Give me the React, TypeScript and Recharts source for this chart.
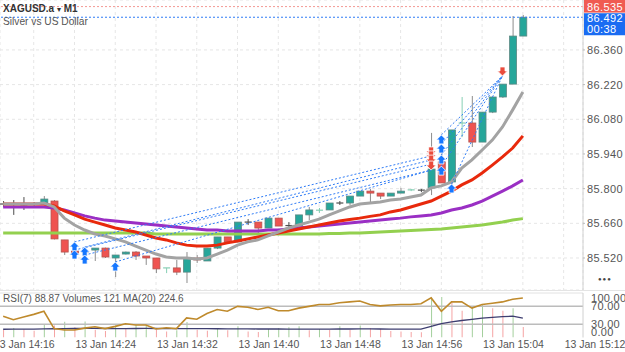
import { ComposedChart, Bar, Line, Scatter, XAxis, YAxis, CartesianGrid, ReferenceLine, Cell } from 'recharts';

// one candle per minute, left to right
const opens = [85.738, 85.738, 85.734, 85.738, 85.742, 85.750, 85.593, 85.548, 85.544, 85.552, 85.560, 85.520, 85.536, 85.544, 85.528, 85.520, 85.476, 85.480, 85.463, 85.520, 85.508, 85.560, 85.605, 85.585, 85.665, 85.665, 85.641, 85.681, 85.651, 85.649, 85.694, 85.712, 85.714, 85.742, 85.742, 85.770, 85.790, 85.782, 85.770, 85.782, 85.794, 85.794, 85.803, 85.908, 85.827, 86.061, 86.065, 85.988, 86.109, 86.170, 86.222, 86.416];
const highs = [85.750, 85.754, 85.766, 85.746, 85.770, 85.754, 85.593, 85.560, 85.552, 85.560, 85.562, 85.532, 85.546, 85.548, 85.528, 85.520, 85.480, 85.512, 85.544, 85.532, 85.560, 85.605, 85.605, 85.665, 85.677, 85.665, 85.681, 85.681, 85.665, 85.694, 85.726, 85.722, 85.742, 85.750, 85.770, 85.790, 85.799, 85.782, 85.782, 85.803, 85.799, 85.799, 86.025, 85.956, 86.037, 86.170, 86.174, 86.109, 86.170, 86.222, 86.497, 86.501];
const lows = [85.726, 85.694, 85.714, 85.730, 85.742, 85.595, 85.532, 85.520, 85.532, 85.508, 85.520, 85.443, 85.534, 85.512, 85.492, 85.459, 85.459, 85.451, 85.419, 85.500, 85.508, 85.556, 85.581, 85.585, 85.653, 85.621, 85.641, 85.649, 85.641, 85.649, 85.673, 85.702, 85.714, 85.734, 85.734, 85.770, 85.742, 85.758, 85.770, 85.782, 85.790, 85.786, 85.774, 85.823, 85.815, 86.008, 85.968, 85.988, 86.105, 86.166, 86.222, 86.416];
const closes = [85.738, 85.738, 85.734, 85.738, 85.758, 85.597, 85.544, 85.540, 85.544, 85.560, 85.524, 85.532, 85.544, 85.528, 85.520, 85.476, 85.480, 85.463, 85.520, 85.512, 85.560, 85.605, 85.585, 85.665, 85.665, 85.641, 85.681, 85.649, 85.651, 85.694, 85.714, 85.713, 85.742, 85.742, 85.770, 85.790, 85.782, 85.770, 85.782, 85.790, 85.795, 85.794, 85.879, 85.823, 86.037, 86.065, 85.988, 86.109, 86.170, 86.222, 86.416, 86.492];

const maGray = [85.738, 85.738, 85.738, 85.738, 85.742, 85.726, 85.681, 85.653, 85.633, 85.617, 85.609, 85.597, 85.585, 85.568, 85.552, 85.536, 85.524, 85.520, 85.520, 85.516, 85.520, 85.536, 85.552, 85.572, 85.585, 85.593, 85.609, 85.625, 85.641, 85.653, 85.665, 85.677, 85.694, 85.710, 85.726, 85.738, 85.742, 85.746, 85.754, 85.758, 85.766, 85.774, 85.803, 85.811, 85.827, 85.883, 85.916, 85.956, 85.996, 86.049, 86.118, 86.190];
const maRed = [85.738, 85.738, 85.738, 85.738, 85.738, 85.730, 85.710, 85.694, 85.677, 85.665, 85.653, 85.641, 85.633, 85.625, 85.613, 85.601, 85.593, 85.581, 85.572, 85.568, 85.568, 85.572, 85.581, 85.589, 85.597, 85.605, 85.613, 85.621, 85.629, 85.637, 85.645, 85.653, 85.661, 85.669, 85.675, 85.681, 85.688, 85.694, 85.706, 85.714, 85.726, 85.738, 85.750, 85.770, 85.790, 85.815, 85.835, 85.863, 85.895, 85.928, 85.964, 86.013];
const maPurple = [85.726, 85.726, 85.726, 85.726, 85.726, 85.722, 85.714, 85.702, 85.690, 85.681, 85.673, 85.669, 85.665, 85.661, 85.657, 85.653, 85.649, 85.645, 85.641, 85.637, 85.633, 85.633, 85.629, 85.629, 85.629, 85.629, 85.633, 85.633, 85.637, 85.641, 85.645, 85.649, 85.653, 85.657, 85.661, 85.665, 85.669, 85.673, 85.677, 85.681, 85.686, 85.690, 85.694, 85.702, 85.714, 85.722, 85.734, 85.750, 85.770, 85.790, 85.811, 85.835];
const maGreen = [85.621, 85.621, 85.621, 85.621, 85.621, 85.621, 85.621, 85.621, 85.621, 85.621, 85.621, 85.621, 85.621, 85.621, 85.621, 85.617, 85.617, 85.617, 85.617, 85.617, 85.617, 85.617, 85.617, 85.617, 85.617, 85.617, 85.617, 85.617, 85.617, 85.617, 85.617, 85.617, 85.619, 85.619, 85.621, 85.621, 85.623, 85.625, 85.627, 85.629, 85.631, 85.633, 85.635, 85.637, 85.641, 85.645, 85.649, 85.653, 85.659, 85.665, 85.673, 85.679];

const rsi = [48, 40, 46, 52, 59, 20, 17, 17, 21, 24, 20, 25, 31, 28, 28, 19, 22, 20, 44, 41, 54, 63, 59, 70, 68, 63, 68, 60, 60, 66, 70, 74, 74, 78, 80, 82, 74, 71, 73, 74, 74, 76, 89, 59, 80, 80, 66, 74, 77, 80, 86, 88.87];
const volumes = [86, 110, 95, 80, 150, 140, 182, 120, 185, 90, 75, 140, 100, 145, 150, 90, 70, 85, 180, 90, 80, 110, 85, 130, 70, 65, 100, 110, 120, 130, 85, 98, 86, 130, 86, 140, 109, 98, 75, 70, 65, 60, 466, 470, 409, 310, 350, 385, 340, 310, 340, 121];
const volumeMa = [96, 97, 97, 98, 100, 102, 104, 105, 106, 106, 105, 104, 104, 105, 106, 105, 104, 103, 104, 104, 103, 102, 101, 101, 100, 99, 99, 99, 98, 98, 98, 98, 98, 99, 99, 100, 100, 99, 98, 97, 97, 98, 130, 162, 182, 198, 212, 225, 235, 242, 248, 224.6];

// trades: buy arrows, sell arrows and which sell closed each buy
const buyIdx = [7, 7, 8, 8, 11, 43, 43, 43, 43, 44];
const buyPrice = [85.585, 85.552, 85.564, 85.532, 85.504, 86.017, 85.980, 85.936, 85.891, 85.819];
const sellIdx = [42, 42, 42, 42, 49];
const sellPrice = [85.932, 85.916, 85.899, 85.875, 86.255];
const closedBy = [0, 2, 1, 3, 3, 4, 4, 4, 4, 4];

const askPrice = 86.535;
const bidPrice = 86.492;
const barTimer = '00:38';

const priceTicks = [85.52, 85.66, 85.8, 85.94, 86.08, 86.22, 86.36];
const gridTicks = [3, 7, 11, 15, 19, 23, 27, 31, 35, 39, 43, 47, 51, 55];
const timeTicks = [-1, 7, 15, 23, 31, 39, 47, 55];
const timeLabels = ['13 Jan 14:16', '13 Jan 14:24', '13 Jan 14:32', '13 Jan 14:40', '13 Jan 14:48', '13 Jan 14:56', '13 Jan 15:04', '13 Jan 15:12'];
const rsiTicks = [0, 30, 70, 100];

const xDomain = [-0.31, 56.9];
const priceDomain = [85.3908, 86.5616];

const rows = opens.map((o, i) => ({
  i,
  o,
  h: highs[i],
  l: lows[i],
  c: closes[i],
  range: [lows[i], highs[i]],
  ma1: maGray[i],
  ma2: maRed[i],
  ma3: maPurple[i],
  ma4: maGreen[i],
  rsi: rsi[i],
  vol: volumes[i],
  vma: volumeMa[i],
}));

const buys = buyIdx.map((i, k) => ({ i, p: buyPrice[k] }));
const sells = sellIdx.map((i, k) => ({ i, p: sellPrice[k] }));

const FONT = '"Liberation Sans", Arial, sans-serif';

function Candle(props: any) {
  const { x, y, width, height, payload } = props;
  if (!payload) return null;
  const { o, h, l, c } = payload;
  const k = h > l ? height / (h - l) : 0;
  const mid = x + width / 2;
  const yO = y + (h - o) * k;
  const yC = y + (h - c) * k;
  const top = Math.min(yO, yC);
  const bh = Math.abs(yC - yO);
  const up = c >= o;
  if (bh < 1.5) {
    const col = c === o ? '#4d4d4d' : up ? '#86cfb4' : '#e57373';
    return (
      <g>
        <line x1={mid} x2={mid} y1={y} y2={y + height} stroke={col} />
        <line x1={x} x2={x + width} y1={top} y2={top} stroke={col} strokeWidth={1.2} />
      </g>
    );
  }
  return (
    <g>
      <line x1={mid} x2={mid} y1={y} y2={y + height} stroke="#8c8c8c" />
      <rect x={x} y={top} width={width} height={bh} fill={up ? '#26a69a' : '#ef5350'} stroke={up ? '#5b8883' : '#b4544f'} strokeWidth={0.8} />
    </g>
  );
}

function BuyMark(props: any) {
  const { cx, cy } = props;
  const d = `M${cx},${cy} L${cx + 5},${cy + 5} L${cx + 2.5},${cy + 5} L${cx + 2.5},${cy + 9} L${cx - 2.5},${cy + 9} L${cx - 2.5},${cy + 5} L${cx - 5},${cy + 5} Z`;
  return <path d={d} fill="#1677ff" stroke="#ffffff" strokeWidth={0.8} />;
}

function SellMark(props: any) {
  const { cx, cy } = props;
  const d = `M${cx},${cy} L${cx + 5},${cy - 5} L${cx + 2.5},${cy - 5} L${cx + 2.5},${cy - 9} L${cx - 2.5},${cy - 9} L${cx - 2.5},${cy - 5} L${cx - 5},${cy - 5} Z`;
  return <path d={d} fill="#ea4b3c" stroke="#ffffff" strokeWidth={0.8} />;
}

const AskLabel = ({ viewBox }: any) => {
  const x = viewBox.x + viewBox.width;
  return (
    <g>
      <rect x={x + 1} y={viewBox.y - 7} width={42} height={13} fill="#f05b52" />
      <text x={x + 4} y={viewBox.y} dy="0.36em" fill="#fff" fontSize={11} fontFamily={FONT} letterSpacing={0.4}>
        {askPrice.toFixed(3)}
      </text>
    </g>
  );
};

const BidLabel = ({ viewBox }: any) => {
  const x = viewBox.x + viewBox.width;
  return (
    <g>
      <rect x={x + 1} y={viewBox.y - 4} width={42} height={22} fill="#1a6cf2" />
      <text x={x + 4} y={viewBox.y + 1} dy="0.36em" fill="#fff" fontSize={11} fontFamily={FONT} letterSpacing={0.4}>
        {bidPrice.toFixed(3)}
      </text>
      <text x={x + 4} y={viewBox.y + 12} dy="0.36em" fill="#fff" fontSize={11} fontFamily={FONT} letterSpacing={0.4}>
        {barTimer}
      </text>
    </g>
  );
};

const TimeTick = ({ x, y, payload }: any) => {
  const k = timeTicks.indexOf(payload.value);
  return (
    <text x={x + 1} y={y - 1} dy="0.36em" textAnchor="start" fill="#555" fontSize={10.5} fontFamily={FONT}>
      {timeLabels[k]}
    </text>
  );
};

const RsiTick = ({ x, y, payload }: any) => {
  const yy = Math.min(Math.max(y, 8), 42);
  return (
    <text x={x + 4} y={yy} dy="0.36em" textAnchor="start" fill="#555" fontSize={11} fontFamily={FONT} letterSpacing={0.3}>
      {Number(payload.value).toFixed(2)}
    </text>
  );
};

const lineProps = { type: 'linear' as const, strokeWidth: 3, dot: false, activeDot: false, legendType: 'none' as const, isAnimationActive: false };

export default function App() {
  const last = rows.length - 1;
  return (
    <div style={{ position: 'absolute', left: 0, top: 0, width: 625, height: 352, background: '#fff', overflow: 'hidden', fontFamily: FONT }}>
      <ComposedChart width={625} height={290} data={rows} margin={{ top: 0, right: 0, bottom: 0, left: 0 }}>
        <CartesianGrid strokeDasharray="3 3" stroke="#e6e6e6" />
        <XAxis type="number" dataKey="i" domain={xDomain} ticks={gridTicks} interval={0} allowDataOverflow hide />
        <YAxis
          orientation="right"
          width={42}
          domain={priceDomain}
          allowDataOverflow
          ticks={priceTicks}
          interval={0}
          tickFormatter={(v: number) => v.toFixed(3)}
          tick={{ fill: '#555', fontSize: 11, fontFamily: FONT, letterSpacing: 0.4 }}
          tickSize={2}
          tickMargin={2}
          tickLine={{ stroke: '#bbb' }}
          axisLine={{ stroke: '#d0d0d0' }}
        />
        <ReferenceLine y={askPrice} stroke="#f39a94" strokeDasharray="2 2" label={<AskLabel />} />
        <ReferenceLine y={bidPrice} stroke="#2f7cf6" strokeDasharray="2 2" label={<BidLabel />} />
        <Line {...lineProps} dataKey="ma4" stroke="#93d04f" />
        <Line {...lineProps} dataKey="ma3" stroke="#9a2fc4" />
        <Line {...lineProps} dataKey="ma2" stroke="#e8290c" />
        <Line {...lineProps} dataKey="ma1" stroke="#a3a3a3" />
        <Bar dataKey="range" barSize={7} shape={Candle} isAnimationActive={false} />
        {buyIdx.map((bi, k) => (
          <ReferenceLine
            key={'t' + k}
            segment={[
              { x: bi, y: buyPrice[k] },
              { x: sellIdx[closedBy[k]], y: sellPrice[closedBy[k]] },
            ]}
            stroke="#2f7cf6"
            strokeDasharray="2 2"
            ifOverflow="visible"
          />
        ))}
        <Scatter data={buys} dataKey="p" shape={BuyMark} isAnimationActive={false} />
        <Scatter data={sells} dataKey="p" shape={SellMark} isAnimationActive={false} />
      </ComposedChart>

      <div style={{ position: 'absolute', left: 0, top: 290, width: 625, height: 1, background: '#e4e4e4' }} />

      <div style={{ position: 'absolute', left: 0, top: 290 }}>
        <ComposedChart width={625} height={62} data={rows} margin={{ top: 3, right: 0, bottom: 0, left: 0 }}>
          <XAxis
            type="number"
            dataKey="i"
            domain={xDomain}
            allowDataOverflow
            ticks={timeTicks}
            interval={0}
            height={14.5}
            axisLine={false}
            tickLine={false}
            tick={<TimeTick />}
          />
          <YAxis
            yAxisId="rsi"
            orientation="right"
            width={42}
            domain={[0, 100]}
            ticks={rsiTicks}
            interval={0}
            tick={<RsiTick />}
            tickSize={2}
            tickLine={false}
            axisLine={{ stroke: '#d0d0d0' }}
          />
          <YAxis yAxisId="vol" hide domain={[0, 518]} allowDataOverflow />
          <ReferenceLine yAxisId="rsi" y={100} stroke="#e2e2e2" />
          <ReferenceLine yAxisId="rsi" y={70} stroke="#bcbcbc" strokeWidth={1.5} />
          <ReferenceLine yAxisId="rsi" y={30} stroke="#bcbcbc" strokeWidth={1.5} />
          <Bar yAxisId="vol" dataKey="vol" barSize={1} isAnimationActive={false}>
            {rows.map((r, i) => (
              <Cell key={i} fill={i > 0 && r.vol > rows[i - 1].vol ? '#a3cf9c' : '#f5a3a3'} />
            ))}
          </Bar>
          <Line yAxisId="vol" type="linear" dataKey="vma" stroke="#3e3e70" strokeWidth={1.3} dot={false} activeDot={false} isAnimationActive={false} />
          <Line yAxisId="rsi" type="linear" dataKey="rsi" stroke="#bf8a2c" strokeWidth={1.6} dot={false} activeDot={false} isAnimationActive={false} />
        </ComposedChart>
      </div>

      <div style={{ position: 'absolute', left: 3, top: 3, fontSize: 10, color: '#333', fontWeight: 700, whiteSpace: 'nowrap' }}>
        XAGUSD.a <span style={{ fontSize: 8, fontWeight: 400 }}>▾</span> M1
      </div>
      <div style={{ position: 'absolute', left: 3, top: 16, fontSize: 10.2, color: '#555', whiteSpace: 'nowrap' }}>
        Silver vs US Dollar
      </div>
      <div style={{ position: 'absolute', left: 3, top: 293, fontSize: 10, color: '#555', whiteSpace: 'nowrap' }}>
        {`RSI(7) ${rsi[last].toFixed(2)} Volumes ${volumes[last]} MA(20) ${volumeMa[last].toFixed(1)}`}
      </div>
      <div style={{ position: 'absolute', left: 598, top: 276, fontSize: 6, color: '#444', letterSpacing: 1 }}>●●●</div>
    </div>
  );
}
